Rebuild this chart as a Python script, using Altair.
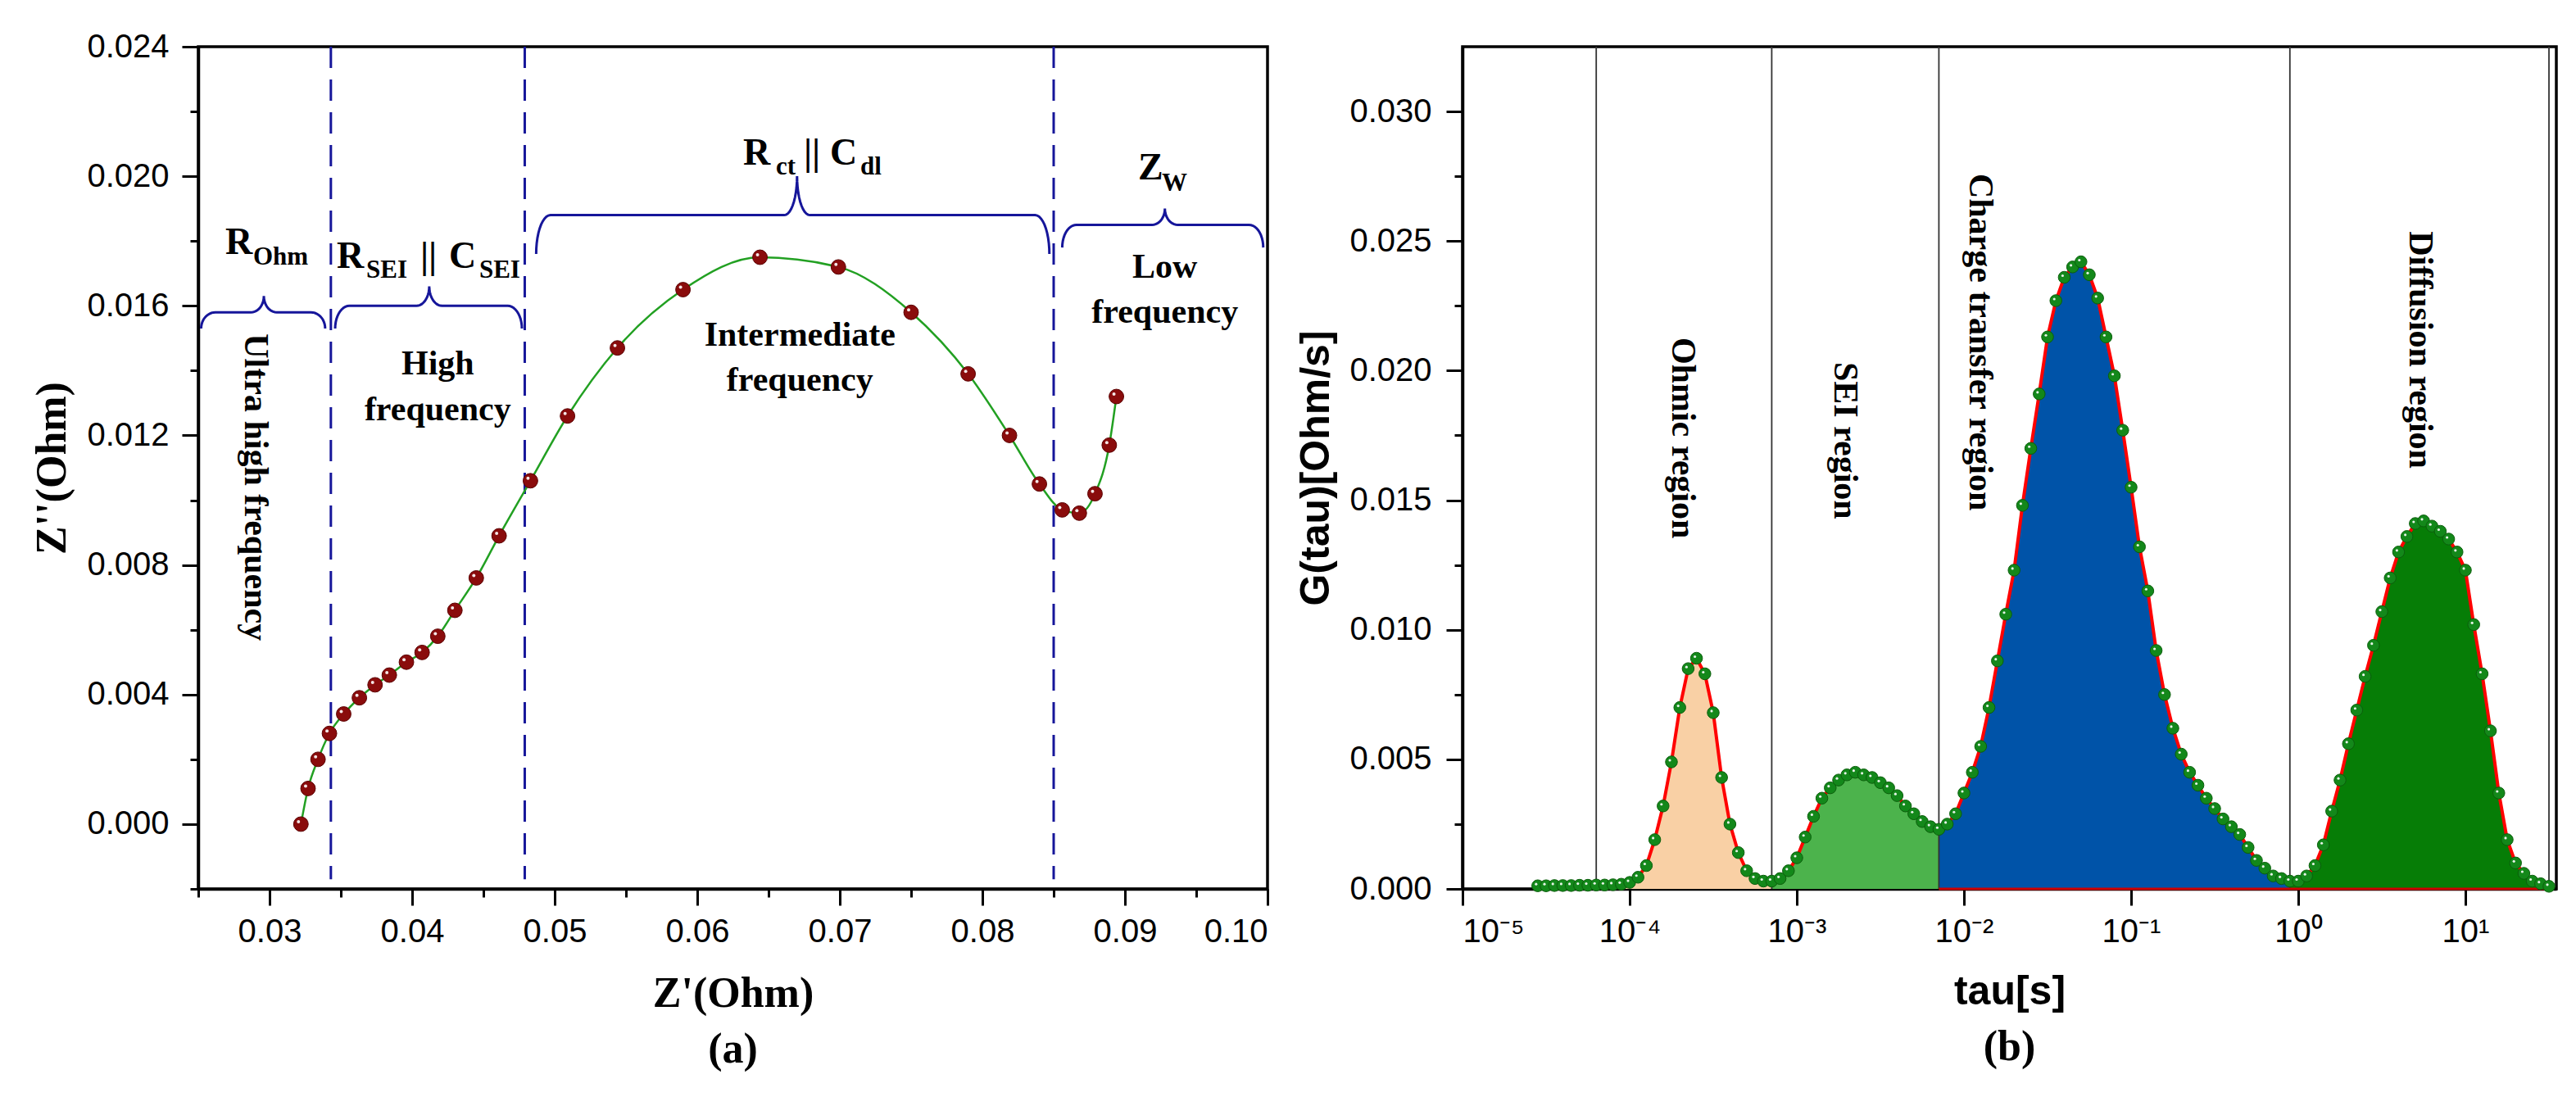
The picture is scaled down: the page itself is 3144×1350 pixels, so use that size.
import altair as alt
import numpy as np
import pandas as pd

SERIF = "Liberation Serif"
SANS = "Liberation Sans"
NAVY = "#16169a"

# ---------------- (a) Nyquist plot ----------------
z_real = [0.0322, 0.0327, 0.0334, 0.0342, 0.0352, 0.0363, 0.0374, 0.0384, 0.0396, 0.0407,
          0.0418, 0.0430, 0.0445, 0.0461, 0.0483, 0.0509, 0.0544, 0.0590, 0.0644, 0.0699,
          0.0750, 0.0790, 0.0819, 0.0840, 0.0856, 0.0868, 0.0879, 0.0889, 0.0894]
z_imag = [0.0000, 0.0011, 0.0020, 0.0028, 0.0034, 0.0039, 0.0043, 0.0046, 0.0050, 0.0053,
          0.0058, 0.0066, 0.0076, 0.0089, 0.0106, 0.0126, 0.0147, 0.0165, 0.0175, 0.0172,
          0.0158, 0.0139, 0.0120, 0.0105, 0.0097, 0.0096, 0.0102, 0.0117, 0.0132]

boundary_z = [0.0343, 0.0479, 0.0850]

# curly braces over each frequency zone
brace_left = [0.0252, 0.0346, 0.0487, 0.0856]
brace_right = [0.0339, 0.0477, 0.0847, 0.0997]
brace_mid = [0.0296, 0.0412, 0.0670, 0.0928]
brace_level = [0.0158, 0.0160, 0.0188, 0.0185]
brace_foot = [0.0153, 0.0153, 0.0176, 0.0178]
brace_peak = [0.0163, 0.0166, 0.0200, 0.0190]

# circuit element labels, split into normal and subscript pieces
elem_text = ["R", "Ohm", "R", "SEI", "||", "C", "SEI", "R", "ct", "||", "C", "dl", "Z", "W"]
elem_x = [0.02690, 0.02885, 0.03471, 0.03678, 0.04057, 0.04259, 0.04471,
          0.06322, 0.06552, 0.06747, 0.06931, 0.07144, 0.09092, 0.09259]
elem_y = [0.01759, 0.01728, 0.01718, 0.01688, 0.01718, 0.01718, 0.01688,
          0.02035, 0.02005, 0.02035, 0.02035, 0.02005, 0.01990, 0.01955]
elem_size = [46, 31, 46, 31, 46, 46, 31, 46, 31, 46, 46, 31, 46, 31]

freq_text = ["High", "frequency", "Intermediate", "frequency", "Low", "frequency"]
freq_x = [0.0418, 0.0418, 0.0672, 0.0672, 0.0928, 0.0928]
freq_y = [0.0142, 0.0128, 0.0151, 0.0137, 0.0172, 0.0158]

ultra_text = ["Ultra high frequency"]
ultra_x = [0.0290]
ultra_y = [0.0104]

za_x_major = [0.03, 0.04, 0.05, 0.06, 0.07, 0.08, 0.09, 0.10]
za_x_minor = [0.025, 0.035, 0.045, 0.055, 0.065, 0.075, 0.085, 0.095]
za_y_major = [0.000, 0.004, 0.008, 0.012, 0.016, 0.020, 0.024]
za_y_minor = [-0.002, 0.002, 0.006, 0.010, 0.014, 0.018, 0.022]

# ---------------- (b) DRT ----------------
drt_logtau = [
    -4.55, -4.50, -4.45, -4.40, -4.35, -4.30, -4.25, -4.20, -4.15, -4.10,
    -4.05, -4.00, -3.95, -3.90, -3.85, -3.80, -3.75, -3.70, -3.65, -3.60,
    -3.55, -3.50, -3.45, -3.40, -3.35, -3.30, -3.25, -3.20, -3.15, -3.10,
    -3.05, -3.00, -2.95, -2.90, -2.85, -2.80, -2.75, -2.70, -2.65, -2.60,
    -2.55, -2.50, -2.45, -2.40, -2.35, -2.30, -2.25, -2.20, -2.15, -2.10,
    -2.05, -2.00, -1.95, -1.90, -1.85, -1.80, -1.75, -1.70, -1.65, -1.60,
    -1.55, -1.50, -1.45, -1.40, -1.35, -1.30, -1.25, -1.20, -1.15, -1.10,
    -1.05, -1.00, -0.95, -0.90, -0.85, -0.80, -0.75, -0.70, -0.65, -0.60,
    -0.55, -0.50, -0.45, -0.40, -0.35, -0.30, -0.25, -0.20, -0.15, -0.10,
    -0.05, 0.00, 0.05, 0.10, 0.15, 0.20, 0.25, 0.30, 0.35, 0.40,
    0.45, 0.50, 0.55, 0.60, 0.65, 0.70, 0.75, 0.80, 0.85, 0.90,
    0.95, 1.00, 1.05, 1.10, 1.15, 1.20, 1.25, 1.30, 1.35, 1.40,
    1.45, 1.50]
drt_g = [
    0.00012, 0.00012, 0.00013, 0.00013, 0.00013, 0.00014, 0.00014, 0.00015, 0.00015, 0.00016,
    0.00018, 0.00025, 0.00045, 0.0009, 0.0019, 0.0032, 0.0049, 0.0070, 0.0085, 0.0089,
    0.0083, 0.0068, 0.0043, 0.0025, 0.0014, 0.0007, 0.0004, 0.0003, 0.0003, 0.0004,
    0.0007, 0.0012, 0.0020, 0.0028, 0.0035, 0.0039, 0.0042, 0.0044, 0.0045, 0.0044,
    0.0043, 0.0041, 0.0039, 0.0036, 0.0032, 0.0029, 0.0026, 0.0024, 0.0023, 0.0025,
    0.0029, 0.0037, 0.0045, 0.0055, 0.0070, 0.0088, 0.0106, 0.0123, 0.0148, 0.0170,
    0.0191, 0.0213, 0.0227, 0.0236, 0.0240, 0.0242, 0.0237, 0.0228, 0.0213, 0.0198,
    0.0177, 0.0155, 0.0132, 0.0115, 0.0092, 0.0075, 0.0062, 0.0052, 0.0045, 0.0040,
    0.0035, 0.0031, 0.0027, 0.0024, 0.0021, 0.0016, 0.0011, 0.0008, 0.0005, 0.0004,
    0.0003, 0.0003, 0.0005, 0.0009, 0.0017, 0.0030, 0.0042, 0.0056, 0.0069, 0.0082,
    0.0094, 0.0107, 0.0120, 0.0130, 0.0136, 0.0141, 0.0142, 0.0140, 0.0138, 0.0135,
    0.0130, 0.0123, 0.0102, 0.0083, 0.0061, 0.0037, 0.0019, 0.0010, 0.0006, 0.0003,
    0.0002, 0.0001]

region_names = ["Ohmic", "SEI", "Charge transfer", "Diffusion"]
region_start = [-4.20, -3.15, -2.15, -0.05]
region_end = [-3.15, -2.15, -0.05, 1.50]
region_colors = ["#f9d0a5", "#4cb34c", "#0053a8", "#067d06"]

separator_logtau = [-4.20, -3.15, -2.15, -0.05, 1.50]

region_label = ["Ohmic region", "SEI region", "Charge transfer region", "Diffusion region"]
region_label_logtau = [-3.68, -2.71, -1.90, 0.73]
region_label_g = [0.0174, 0.0173, 0.0211, 0.0208]

zb_x_major = [1e-5, 1e-4, 1e-3, 1e-2, 1e-1, 1e0, 1e1]
zb_x_labels = ["10⁻⁵", "10⁻⁴", "10⁻³", "10⁻²", "10⁻¹", "10⁰", "10¹"]
zb_y_major = [0.000, 0.005, 0.010, 0.015, 0.020, 0.025, 0.030]
zb_y_minor = [0.0025, 0.0075, 0.0125, 0.0175, 0.0225, 0.0275]


def brace_frame():
    rows = []
    t = np.linspace(0, np.pi / 2, 12)
    r_end, r_tip = 0.0010, 0.0009
    for k in range(len(brace_left)):
        x0, x1, xc = brace_left[k], brace_right[k], brace_mid[k]
        yl, ye, yt = brace_level[k], brace_foot[k], brace_peak[k]
        left_end = [(x0 + r_end * (1 - np.cos(a)), ye + (yl - ye) * np.sin(a)) for a in t]
        tip_l = [(xc - r_tip + r_tip * np.sin(a), yl + (yt - yl) * (1 - np.cos(a))) for a in t]
        tip_r = [(2 * xc - x, y) for x, y in reversed(tip_l)]
        right_end = [(x1 - (x - x0), y) for x, y in reversed(left_end)]
        pts = left_end + tip_l + tip_r + right_end
        for i, (x, y) in enumerate(pts):
            rows.append({"x": x, "y": y, "i": i, "grp": k})
    return pd.DataFrame(rows)


# ---------- panel (a) ----------
xa = alt.Scale(domain=[0.025, 0.10], nice=False, zero=False)
ya = alt.Scale(domain=[-0.002, 0.024], nice=False, zero=False)

nyq = pd.DataFrame({"x": z_real, "y": z_imag})

ax_xa = alt.Axis(values=za_x_major, format=".2f", tickSize=20, labelPadding=12,
                 title="Z'(Ohm)", titleFont=SERIF, titleFontSize=52, titlePadding=30)
ax_ya = alt.Axis(values=za_y_major, format=".3f", tickSize=20, labelPadding=16,
                 title="Z''(Ohm)", titleFont=SERIF, titleFontSize=52, titlePadding=15)

dashes = alt.Chart(pd.DataFrame({"x": boundary_z, "y": [0.024] * 3, "y2": [-0.0017] * 3})).mark_rule(
    color=NAVY, strokeWidth=3, strokeDash=[26, 14]
).encode(x=alt.X("x:Q", scale=xa, axis=ax_xa), y=alt.Y("y:Q", scale=ya, axis=ax_ya), y2="y2:Q")

braces = alt.Chart(brace_frame()).mark_line(color=NAVY, strokeWidth=3).encode(
    x=alt.X("x:Q", scale=xa), y=alt.Y("y:Q", scale=ya), detail="grp:N", order="i:Q"
)

elems = alt.Chart(pd.DataFrame({"x": elem_x, "y": elem_y, "t": elem_text, "s": elem_size})).mark_text(
    font=SERIF, fontWeight="bold", align="left", baseline="alphabetic", color="black"
).encode(x=alt.X("x:Q", scale=xa), y=alt.Y("y:Q", scale=ya), text="t:N", size=alt.Size("s:Q", scale=None))

freqs = alt.Chart(pd.DataFrame({"x": freq_x, "y": freq_y, "t": freq_text})).mark_text(
    font=SERIF, fontWeight="bold", fontSize=42, align="center", baseline="middle", color="black"
).encode(x=alt.X("x:Q", scale=xa), y=alt.Y("y:Q", scale=ya), text="t:N")

ultra = alt.Chart(pd.DataFrame({"x": ultra_x, "y": ultra_y, "t": ultra_text})).mark_text(
    font=SERIF, fontWeight="bold", fontSize=42, align="center", baseline="middle", angle=90, color="black"
).encode(x=alt.X("x:Q", scale=xa), y=alt.Y("y:Q", scale=ya), text="t:N")

nyq_line = alt.Chart(nyq).mark_line(color="#22a022", strokeWidth=2.5, interpolate="monotone").encode(
    x=alt.X("x:Q", scale=xa), y=alt.Y("y:Q", scale=ya)
)
nyq_pts = alt.Chart(nyq).mark_point(filled=True, size=320, color="#8a0c0c", stroke="#5a0000",
                                    strokeWidth=1, opacity=1).encode(
    x=alt.X("x:Q", scale=xa), y=alt.Y("y:Q", scale=ya)
)
nyq_hl = alt.Chart(nyq).mark_point(filled=True, size=16, color="white", opacity=0.9,
                                   xOffset=-3, yOffset=-3).encode(
    x=alt.X("x:Q", scale=xa), y=alt.Y("y:Q", scale=ya)
)

minor_a = alt.Chart(nyq).mark_point(opacity=0).encode(
    x=alt.X("x:Q", scale=xa, axis=alt.Axis(values=za_x_minor, labels=False, tickSize=10, title=None,
                                           domain=False, orient="bottom")),
    y=alt.Y("y:Q", scale=ya, axis=alt.Axis(values=za_y_minor, labels=False, tickSize=10, title=None,
                                           domain=False, orient="left")),
)

panel_a = alt.layer(
    alt.layer(dashes, braces, elems, freqs, ultra, nyq_line, nyq_pts, nyq_hl),
    minor_a,
).resolve_axis(x="independent", y="independent").properties(
    width=1305, height=1028,
    title=alt.TitleParams("(a)", orient="bottom", font=SERIF, fontSize=52, fontWeight="bold", offset=18),
)

# ---------- panel (b) ----------
xb = alt.Scale(type="log", domain=[1e-5, 35], nice=False)
yb = alt.Scale(domain=[0, 0.0325], nice=False, zero=False)

drt = pd.DataFrame({"lt": drt_logtau, "g": drt_g})
drt["x"] = 10 ** drt["lt"]

fill_rows = []
for name, a, b in zip(region_names, region_start, region_end):
    part = drt[(drt["lt"] >= a - 1e-9) & (drt["lt"] <= b + 1e-9)].copy()
    part["region"] = name
    fill_rows.append(part)
fills_df = pd.concat(fill_rows, ignore_index=True)

label_expr = ""
for v, lab in zip(zb_x_major[:-1], zb_x_labels[:-1]):
    label_expr += f"datum.value < {v * 3.16} ? '{lab}' : "
label_expr += f"'{zb_x_labels[-1]}'"

ax_xb = alt.Axis(values=zb_x_major, labelExpr=label_expr, tickSize=20, labelPadding=12,
                 title="tau[s]", titleFont=SANS, titleFontSize=50, titlePadding=28)
ax_yb = alt.Axis(values=zb_y_major, format=".3f", tickSize=20, labelPadding=18,
                 title="G(tau)[Ohm/s]", titleFont=SANS, titleFontSize=50, titlePadding=15)

fills = alt.Chart(fills_df).mark_area(opacity=1).encode(
    x=alt.X("x:Q", scale=xb, axis=ax_xb),
    y=alt.Y("g:Q", scale=yb, axis=ax_yb, stack=None),
    color=alt.Color("region:N", scale=alt.Scale(domain=region_names, range=region_colors), legend=None),
    detail="region:N",
)

seps = alt.Chart(pd.DataFrame({"x": [10 ** v for v in separator_logtau]})).mark_rule(
    color="#333333", strokeWidth=1.8
).encode(x=alt.X("x:Q", scale=xb))

base_red = alt.Chart(pd.DataFrame({"x": [10 ** region_start[2]], "x2": [10 ** region_end[3]], "g": [0.0]})).mark_rule(
    color="#d00000", strokeWidth=3
).encode(x=alt.X("x:Q", scale=xb), x2="x2:Q", y=alt.Y("g:Q", scale=yb))

drt_line = alt.Chart(drt).mark_line(color="#ff0000", strokeWidth=4).encode(
    x=alt.X("x:Q", scale=xb), y=alt.Y("g:Q", scale=yb)
)
drt_pts = alt.Chart(drt).mark_point(filled=True, size=210, color="#13881a", stroke="#0b5e0b",
                                    strokeWidth=1, opacity=1).encode(
    x=alt.X("x:Q", scale=xb), y=alt.Y("g:Q", scale=yb)
)
drt_hl = alt.Chart(drt).mark_point(filled=True, size=10, color="white", opacity=0.9,
                                   xOffset=-2, yOffset=-2).encode(
    x=alt.X("x:Q", scale=xb), y=alt.Y("g:Q", scale=yb)
)

labels_b = alt.Chart(pd.DataFrame({
    "x": [10 ** v for v in region_label_logtau], "g": region_label_g, "t": region_label
})).mark_text(font=SERIF, fontWeight="bold", fontSize=42, angle=90, align="center",
              baseline="middle", color="black").encode(
    x=alt.X("x:Q", scale=xb), y=alt.Y("g:Q", scale=yb), text="t:N"
)

minor_b = alt.Chart(drt).mark_point(opacity=0).encode(
    x=alt.X("x:Q", scale=xb),
    y=alt.Y("g:Q", scale=yb, axis=alt.Axis(values=zb_y_minor, labels=False, tickSize=10, title=None,
                                           domain=False, orient="left")),
)

panel_b = alt.layer(
    alt.layer(fills, seps, base_red, drt_line, drt_pts, drt_hl, labels_b),
    minor_b,
).resolve_axis(y="independent").properties(
    width=1335, height=1028,
    title=alt.TitleParams("(b)", orient="bottom", font=SERIF, fontSize=52, fontWeight="bold", offset=18),
)

chart = alt.hconcat(panel_a, panel_b, spacing=238, bounds="flush").properties(
    padding={"left": 28, "top": 27, "right": 5, "bottom": 5}, background="white"
).configure_axis(
    labelFont=SANS, labelFontSize=40, labelColor="black", domainColor="black", domainWidth=3.5,
    tickColor="black", tickWidth=3, grid=False, titleColor="black", titleFontWeight="bold",
).configure_view(stroke="black", strokeWidth=3.5)

chart.save("out.html", embed_options={"renderer": "svg", "actions": False})
